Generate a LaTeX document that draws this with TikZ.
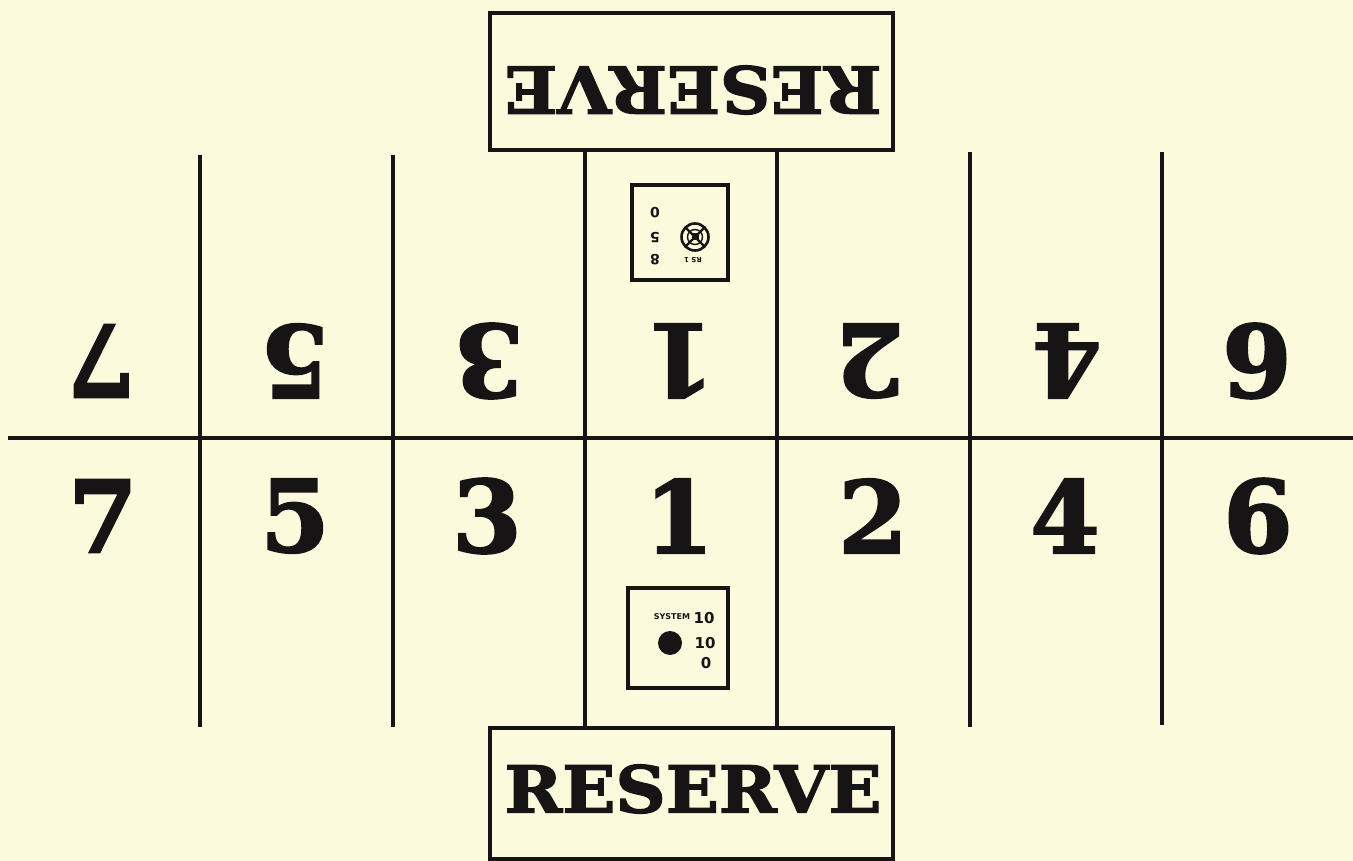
\documentclass[tikz,border=0pt]{standalone}
\usepackage{fontspec}
\newfontfamily\numfont{DejaVu Serif}[BoldFeatures={FakeBold=2}]
\newfontfamily\labfont{DejaVu Sans}
\definecolor{paper}{RGB}{252,250,221}
\definecolor{ink}{RGB}{22,20,20}
\tikzset{
  rule/.style={line width=4.5pt, draw=ink},
  bigbox/.style={rule, fill=paper, inner sep=0pt},
  digit/.style={font=\numfont\bfseries\fontsize{100}{100}\selectfont, text=ink, inner sep=0pt},
  updigit/.style={digit, rotate=180},
  tiny/.style={font=\labfont\bfseries\fontsize{15}{15}\selectfont, text=ink, inner sep=0pt},
  tinier/.style={font=\labfont\bfseries\fontsize{8}{8}\selectfont, text=ink, inner sep=0pt},
  boxdigit/.style={font=\labfont\bfseries\fontsize{14}{14}\selectfont, text=ink, inner sep=0pt},
}
\begin{document}
\begin{tikzpicture}[x=1pt,y=-1pt]
\useasboundingbox (0,0) rectangle (1353,861);
\fill[paper] (0,0) rectangle (1353,861);
% grid lines
\draw[rule] (8,438) -- (1353,438);
\draw[rule] (200,155) -- (200,727);
\draw[rule] (393,155) -- (393,727);
\draw[rule] (970,152) -- (970,727);
\draw[rule] (1162,152) -- (1162,725);
% reserve boxes
\node[bigbox, minimum width=403pt, minimum height=137pt] (topbox) at (691.5,81.5) {};
\node[bigbox, minimum width=403pt, minimum height=131pt] (botbox) at (691.5,793.5) {};
\coordinate (cl) at (585,438);
\coordinate (cr) at (777,438);
\draw[rule] (topbox.south -| cl) -- (botbox.north -| cl);
\draw[rule] (topbox.south -| cr) -- (botbox.north -| cr);
\node[text=ink, inner sep=0pt] (resb) at (693,789) {\resizebox{377pt}{48pt}{\numfont\bfseries RESERVE}};
\node[text=ink, inner sep=0pt, rotate=180] (rest) at (693,90) {\resizebox{377pt}{48pt}{\numfont\bfseries RESERVE}};
% digits bottom row
\node[digit] (b7) at (103,516) {7};
\node[digit] (b5) at (295,516) {5};
\node[digit] (b3) at (487,516) {3};
\node[digit] (b1) at (679,516) {1};
\node[digit] (b2) at (873,516) {2};
\node[digit] (b4) at (1065,516) {4};
\node[digit] (b6) at (1258,516) {6};
% digits top row (upside down)
\node[updigit] (t7) at (101,361) {7};
\node[updigit] (t5) at (295,361) {5};
\node[updigit] (t3) at (489,361) {3};
\node[updigit] (t1) at (680,361) {1};
\node[updigit] (t2) at (870,361) {2};
\node[updigit] (t4) at (1067,361) {4};
\node[updigit] (t9) at (1257,361) {6};
% bottom small box
\node[rule, fill=paper, minimum width=100pt, minimum height=100pt, inner sep=0pt] (sbox) at (678,638) {};
\node[tinier] (sys) at (672,617) {SYSTEM};
\node[tiny] (s10a) at (704,618) {10};
\node[tiny] (s10b) at (705,643) {10};
\node[tiny] (s0) at (706,663) {0};
\fill[ink] (670,643) circle (12);
% top small box (upside down)
\node[rule, fill=paper, minimum width=96pt, minimum height=95pt, inner sep=0pt] (tbox) at (680,232.5) {};
\begin{scope}[shift={(680,232)}, rotate=180, transform shape]
  \node[boxdigit] (r8) at (25,-28) {8};
  \node[boxdigit] (r5) at (25,-6) {5};
  \node[boxdigit] (r0) at (25,19) {0};
  \node[font=\labfont\bfseries\fontsize{7}{7}\selectfont, text=ink, inner sep=0pt] (rs) at (-13,-28) {RS\,\,1};
  \begin{scope}[shift={(-15,-5)}]
    \draw[ink, line width=2.6pt] (0,0) circle (13.5);
    \draw[ink, line width=1.4pt] (0,0) circle (7.5);
    \foreach \a in {45,135,225,315} \draw[ink, line width=2.2pt] (\a:3) -- (\a:13.5);
    \fill[ink] (-3.5,-3.5) rectangle (3.5,3.5);
  \end{scope}
\end{scope}
\end{tikzpicture}
\end{document}
